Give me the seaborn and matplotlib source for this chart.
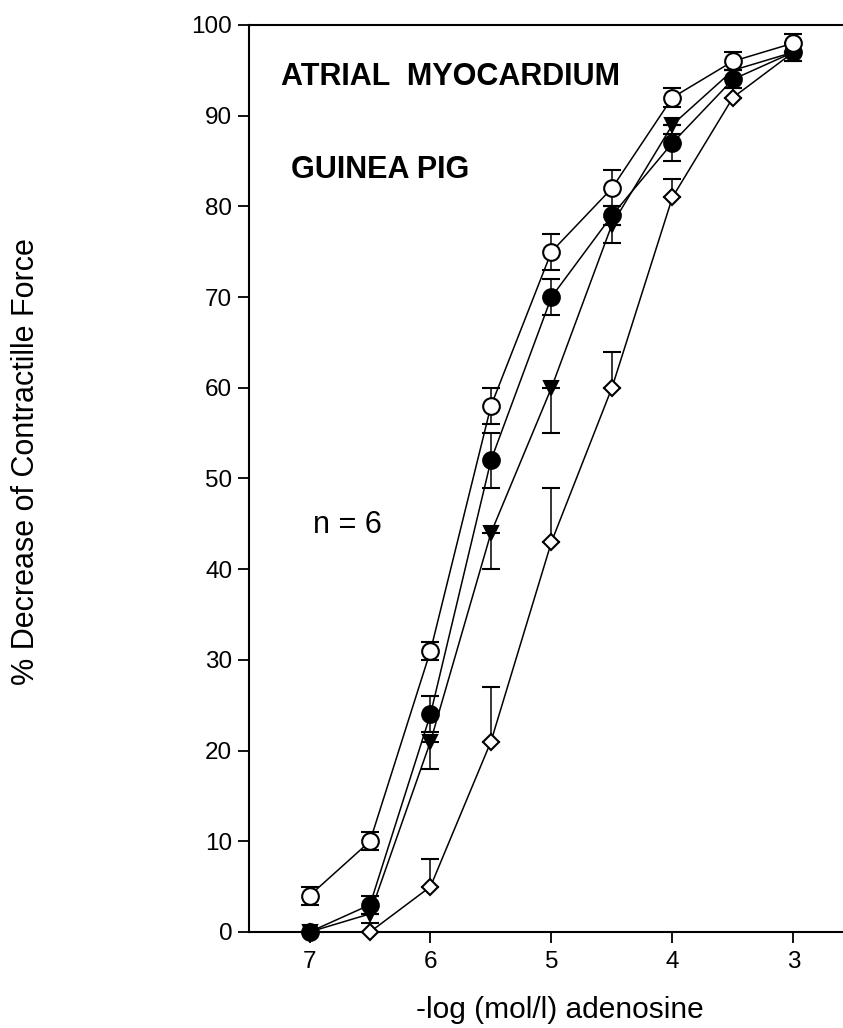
import numpy as np
import pandas as pd
import matplotlib
matplotlib.use('Agg')
import matplotlib.pyplot as plt
import seaborn as sns

# -log concentration of adenosine
log_conc = [7, 6.5, 6, 5.5, 5, 4.5, 4, 3.5, 3]

# % decrease of contractile force (mean) and SEM for each curve
open_circle   = [4, 10, 31, 58, 75, 82, 92, 96, 98]
open_circle_e = [1, 1, 1, 2, 2, 2, 1, 1, 1]

filled_circle   = [0, 3, 24, 52, 70, 79, 87, 94, 97]
filled_circle_e = [0, 1, 2, 3, 2, 1, 2, 1, 1]

triangle   = [0, 2, 21, 44, 60, 78, 89, 95, 97]
triangle_e = [0, 1, 3, 4, 5, 2, 1, 1, 1]      # drawn downwards only

diamond   = [0, 0, 5, 21, 43, 60, 81, 92, 97]
diamond_e = [0, 0, 3, 6, 6, 4, 2, 1, 1]       # drawn upwards only

x_ticks = [7, 6, 5, 4, 3]
y_ticks = list(range(0, 101, 10))

sns.set_style("ticks")
plt.rcParams['font.family'] = ['Liberation Sans', 'DejaVu Sans']
plt.rcParams['text.color'] = 'black'
plt.rcParams['axes.labelcolor'] = 'black'
plt.rcParams['xtick.color'] = 'black'
plt.rcParams['ytick.color'] = 'black'

fig = plt.figure(figsize=(8.43, 10.28), dpi=100)
ax = fig.add_axes([0.2954, 0.0934, 0.7046, 0.8823])

series = [
    # values, errors, direction, marker, size, face
    (diamond,       diamond_e,       'up',   'D', 8.0,  'white'),
    (triangle,      triangle_e,      'down', 'v', 10.5, 'black'),
    (filled_circle, filled_circle_e, 'both', 'o', 12,   'black'),
    (open_circle,   open_circle_e,   'both', 'o', 12,   'white'),
]

for vals, errs, side, mk, ms, face in series:
    df = pd.DataFrame({'x': log_conc, 'y': vals})
    e = np.array(errs, dtype=float)
    z = np.zeros_like(e)
    if side == 'up':
        yerr = [z, e]
    elif side == 'down':
        yerr = [e, z]
    else:
        yerr = [e, e]
    eb = ax.errorbar(df['x'], df['y'], yerr=yerr, fmt='none', ecolor='black',
                     elinewidth=1.1, capsize=6.3, capthick=1.5, zorder=2)
    for art in eb.lines[1] + eb.lines[2]:
        art.set_clip_on(False)
    sns.lineplot(data=df, x='x', y='y', ax=ax, color='black', linewidth=1.1,
                 marker=mk, markersize=ms, markerfacecolor=face,
                 markeredgecolor='black', markeredgewidth=1.5,
                 clip_on=False, zorder=3, sort=False)

ax.set_xlim(7.5, 2.59)
ax.set_ylim(0, 100)
ax.set_xticks(x_ticks)
ax.set_xticklabels([str(t) for t in x_ticks])
ax.set_yticks(y_ticks)

for side in ['left', 'bottom', 'top']:
    ax.spines[side].set_linewidth(1.5)
    ax.spines[side].set_color('black')
ax.spines['right'].set_visible(False)

ax.tick_params(axis='both', direction='out', length=8, width=1.3,
               labelsize=17.5, colors='black')
ax.tick_params(axis='y', pad=4)
ax.tick_params(axis='x', pad=6)

ax.set_xlabel('-log (mol/l) adenosine', fontsize=21.5, color='black')
ax.set_ylabel('% Decrease of Contractille Force', fontsize=22, color='black')
ax.xaxis.set_label_coords(0.524, -0.071)
ax.yaxis.set_label_coords(-0.35, 0.519)

ax.text(7.236, 93.4, 'ATRIAL  MYOCARDIUM', fontsize=22, fontweight='bold',
        color='black', ha='left', va='baseline')
ax.text(7.153, 83.1, 'GUINEA PIG', fontsize=22, fontweight='bold',
        color='black', ha='left', va='baseline')
ax.text(6.97, 44.0, 'n = 6', fontsize=22, color='black', ha='left', va='baseline')

fig.savefig('out.png', dpi=100)
plt.close()
